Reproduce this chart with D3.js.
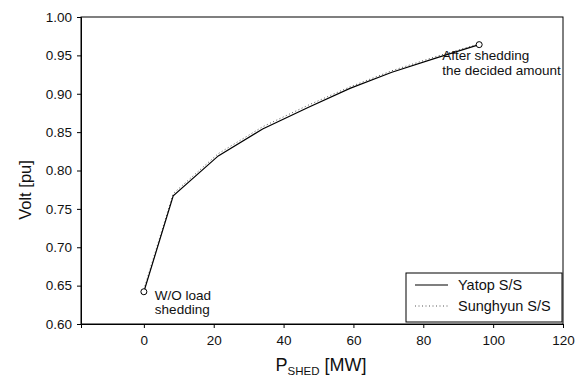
<!DOCTYPE html>
<html><head><meta charset="utf-8">
<script src="https://cdn.jsdelivr.net/npm/d3@7"></script>
<style>body{margin:0;background:#fff}svg{display:block}text{font-family:"Liberation Sans",Arial,sans-serif;fill:#111}</style>
</head><body>
<svg id="c" width="580" height="379"></svg>
<script>
const shedMW = [0, 8.4, 21.3, 34, 47, 59, 71, 84, 96];
const yatop = [0.642, 0.767, 0.819, 0.854, 0.882, 0.907, 0.928, 0.947, 0.964];
const sunghyun = [0.645, 0.770, 0.822, 0.857, 0.885, 0.909, 0.930, 0.949, 0.965];
const xTicks = [0, 20, 40, 60, 80, 100, 120];
const yTicks = [0.60, 0.65, 0.70, 0.75, 0.80, 0.85, 0.90, 0.95, 1.00];
const seriesNames = ["Yatop S/S", "Sunghyun S/S"];

const svg = d3.select("#c");
const L = 81, R = 563, T = 17, B = 324;
const x = d3.scaleLinear().domain([-18, 120]).range([L, R]);
const y = d3.scaleLinear().domain([0.60, 1.00]).range([B, T]);

const g = svg.append("g");
g.append("rect").attr("x", L).attr("y", T).attr("width", R - L).attr("height", B - T)
  .attr("fill", "none").attr("stroke", "#000").attr("stroke-width", 1);

const xAxis = g.append("g").attr("transform", `translate(0,${B})`)
  .call(d3.axisBottom(x).tickValues(xTicks).tickSize(4).tickPadding(7).tickFormat(d3.format("d")));
const yAxis = g.append("g").attr("transform", `translate(${L},0)`)
  .call(d3.axisLeft(y).tickValues(yTicks).tickSize(4).tickPadding(5).tickFormat(d3.format(".2f")));
[xAxis, yAxis].forEach(a => {
  a.select(".domain").attr("stroke", "#000");
  a.selectAll(".tick line").attr("stroke", "#000");
  a.selectAll("text").attr("font-size", 13.5).attr("fill", "#111")
   .style("font-family", '"Liberation Sans",Arial,sans-serif');
});

const line = d3.line().x((d, i) => x(shedMW[i])).y(d => y(d));
g.append("path").datum(sunghyun).attr("d", line).attr("fill", "none")
  .attr("stroke", "#555").attr("stroke-width", 1).attr("stroke-dasharray", "1,2.5");
g.append("path").datum(yatop).attr("d", line).attr("fill", "none")
  .attr("stroke", "#000").attr("stroke-width", 1.2);

const ends = [0, shedMW.length - 1];
g.selectAll("circle.end").data(ends).enter().append("circle")
  .attr("cx", i => x(shedMW[i])).attr("cy", i => y(yatop[i])).attr("r", 3)
  .attr("fill", "#fff").attr("stroke", "#000").attr("stroke-width", 1);

const ann = g.append("g").attr("font-size", 13.5);
ann.append("text").attr("x", x(shedMW[0]) + 11).attr("y", y(yatop[0]) + 8).text("W/O load");
ann.append("text").attr("x", x(shedMW[0]) + 11).attr("y", y(yatop[0]) + 22).text("shedding");
ann.append("text").attr("x", x(shedMW[8]) - 37).attr("y", y(yatop[8]) + 15).text("After shedding");
ann.append("text").attr("x", x(shedMW[8]) - 37).attr("y", y(yatop[8]) + 30).text("the decided amount");

const lg = g.append("g");
lg.append("rect").attr("x", 406).attr("y", 273).attr("width", 156).attr("height", 49)
  .attr("fill", "#fff").attr("stroke", "#000").attr("stroke-width", 1);
seriesNames.forEach((n, i) => {
  const yy = 285 + i * 21;
  lg.append("line").attr("x1", 415).attr("x2", 448).attr("y1", yy).attr("y2", yy)
    .attr("stroke", i ? "#555" : "#000").attr("stroke-width", i ? 1 : 1.2)
    .attr("stroke-dasharray", i ? "1,2.5" : null);
  lg.append("text").attr("x", 458).attr("y", yy + 5).attr("font-size", 14.5).text(n);
});

svg.append("text").attr("transform", "translate(31,190) rotate(-90)")
  .attr("text-anchor", "middle").attr("font-size", 16.5).text("Volt [pu]");
const xt = svg.append("text").attr("x", 321).attr("y", 371).attr("text-anchor", "middle").attr("font-size", 18);
xt.append("tspan").text("P");
xt.append("tspan").attr("font-size", 11.5).attr("dy", 4).text("SHED");
xt.append("tspan").attr("dy", -4).text(" [MW]");
</script>
</body></html>
